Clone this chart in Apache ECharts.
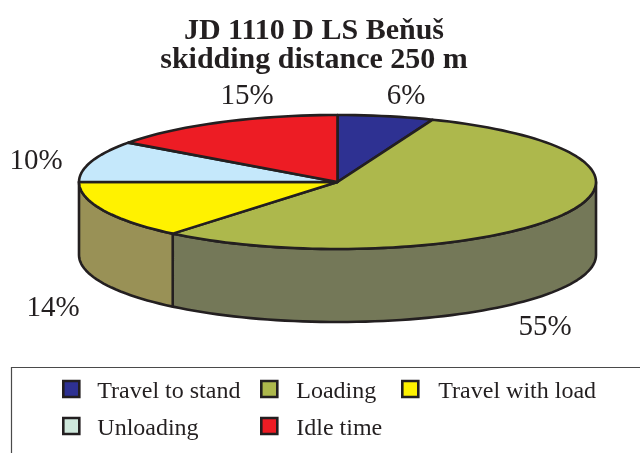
<!DOCTYPE html>
<html>
<head>
<meta charset="utf-8">
<style>html,body{margin:0;padding:0;background:#fff}#container{width:640px;height:453px}</style>
<script src="https://cdn.jsdelivr.net/npm/echarts@6/dist/echarts.min.js"></script>
</head>
<body>
<div id="container"></div>
<script>
var categories = ['Travel to stand', 'Loading', 'Travel with load', 'Unloading', 'Idle time'];
var shares = [6, 55, 14, 10, 15];
var topColors = ['#2e3192', '#adb84c', '#fff200', '#c5e8fb', '#ed1c24'];
var wallColors = ['#23266e', '#747858', '#999156', '#8fa8b5', '#a8141a'];
var legendColors = ['#2e3192', '#adb84c', '#fff200', '#cfe8dc', '#ed1c24'];
var labelSpots = [[406, 96], [545, 327], [53, 308], [36, 161], [247, 96]];

var ink = '#231f20';
var serif = '"Liberation Serif", serif';
var cx = 337.5, cy = 182, rx = 258.5, ry = 67, depth = 73;

var total = 0;
shares.forEach(function (v) { total += v; });

// start and end of a slice, in degrees clockwise from the top
function sliceAngles(idx) {
    var sum = 0;
    for (var i = 0; i < idx; i++) sum += shares[i];
    return [sum / total * 360, (sum + shares[idx]) / total * 360];
}

function rimPoint(deg, drop) {
    var r = deg * Math.PI / 180;
    return [cx + rx * Math.sin(r), cy - ry * Math.cos(r) + drop];
}

function rimArc(from, to, drop) {
    var pts = [];
    var steps = Math.max(2, Math.ceil((to - from) / 2));
    for (var i = 0; i <= steps; i++) {
        pts.push(rimPoint(from + (to - from) * i / steps, drop));
    }
    return pts;
}

function renderWall(params) {
    var a = sliceAngles(params.dataIndex);
    var from = Math.max(a[0], 90), to = Math.min(a[1], 270);
    if (to <= from) return null;
    var pts = rimArc(from, to, 0).concat(rimArc(from, to, depth).reverse());
    return {
        type: 'polygon',
        shape: { points: pts },
        style: { fill: wallColors[params.dataIndex], stroke: ink, lineWidth: 2.6, lineJoin: 'round' }
    };
}

function renderTop(idx) {
    return function () {
        var a = sliceAngles(idx);
        var pts = [[cx, cy]].concat(rimArc(a[0], a[1], 0));
        return {
            type: 'group',
            children: [{
                type: 'polygon',
                shape: { points: pts },
                style: { fill: topColors[idx], stroke: ink, lineWidth: 2.6, lineJoin: 'round' }
            }, {
                type: 'text',
                style: {
                    x: labelSpots[idx][0], y: labelSpots[idx][1],
                    text: shares[idx] + '%',
                    fill: ink, font: '29px ' + serif,
                    align: 'center', verticalAlign: 'middle'
                }
            }]
        };
    };
}

var series = [{
    type: 'custom',
    name: 'walls',
    coordinateSystem: 'none',
    silent: true,
    z: 1,
    renderItem: renderWall,
    data: shares
}];
categories.forEach(function (name, i) {
    series.push({
        type: 'custom',
        name: name,
        coordinateSystem: 'none',
        z: 2,
        itemStyle: { color: topColors[i] },
        renderItem: renderTop(i),
        data: [shares[i]]
    });
});

function legendColumn(idxs, left, textGap) {
    return {
        orient: 'vertical',
        left: left,
        top: 369,
        itemWidth: 16,
        itemHeight: 16,
        itemGap: 7,
        selectedMode: false,
        icon: 'rect',
        formatter: '{a|{name}}',
        textStyle: {
            rich: {
                a: { fontFamily: serif, fontSize: 24, color: ink, padding: [6, 0, 0, textGap], lineHeight: 26 }
            }
        },
        data: idxs.map(function (i) {
            return {
                name: categories[i],
                itemStyle: { color: legendColors[i], borderColor: ink, borderWidth: 2.6 }
            };
        })
    };
}

var option = {
    animation: false,
    backgroundColor: '#fff',
    title: {
        text: 'JD 1110 D LS Beňuš\nskidding distance 250 m',
        left: 309,
        top: 12,
        textAlign: 'center',
        textStyle: { fontFamily: serif, fontSize: 30, fontWeight: 'bold', color: ink, lineHeight: 29 }
    },
    legend: [legendColumn([0, 3], 57, 13), legendColumn([1, 4], 255, 14), legendColumn([2], 396, 15)],
    graphic: [{
        type: 'polyline',
        silent: true,
        shape: { points: [[11.5, 453], [11.5, 367.5], [640, 367.5]] },
        style: { fill: null, stroke: '#4a4a4a', lineWidth: 1.2 }
    }],
    series: series
};

var myChart = echarts.init(document.getElementById('container'));
myChart.setOption(option);
</script>
</body>
</html>
